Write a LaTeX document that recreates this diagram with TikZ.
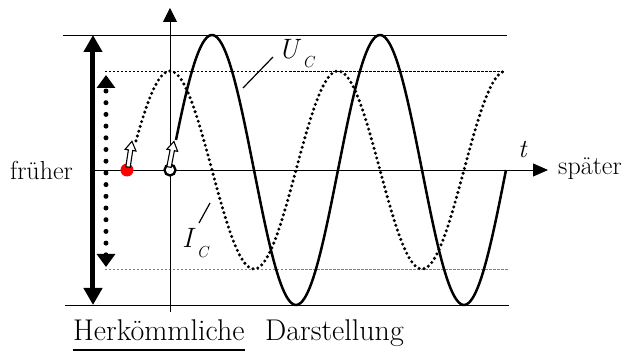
\documentclass[tikz,border=0pt]{standalone}
\usepackage{tikz}
\usetikzlibrary{
	arrows.meta,
	positioning
}

\begin{document}
\begin{tikzpicture}[x=1pt, y=1pt,
		lbl/.style={font=\fontsize{26}{30}\selectfont, inner sep=0pt},
		sym/.style={font=\fontsize{28}{32}\selectfont\itshape, inner sep=0pt},
		captiontext/.style={font=\fontsize{30}{34}\selectfont, inner sep=0pt, anchor=base west},
		thinline/.style={line width=0.8pt},
		hollow/.style={line width=1.1pt, fill=white, line join=miter}]
		\useasboundingbox (-170,-183) rectangle (452,170);
		% Begrenzungen
		\draw[thinline] (-107,135) -- (337,135);
		\draw[thinline] (-105,-135) -- (339,-135);
		\draw[line width=0.7pt, dash pattern=on 2.5pt off 1.5pt] (-65,99) -- (334,99);
		\draw[line width=0.7pt, gray, dash pattern=on 2.5pt off 1.5pt] (-65,-99) -- (338,-99);
		% Achsen
		\draw[thinline, -{Triangle[length=15pt, width=13pt]}] (-80,0) -- (378,0);
		\draw[thinline, -{Triangle[length=14pt, width=14pt]}] (0,-142) -- (0,162);
		% Amplituden
		\draw[line width=5pt, {Triangle[length=17pt, width=18pt]}-{Triangle[length=17pt, width=18pt]}] 
		(-77,-135) -- (-77,135);
		\draw[line width=5pt, line cap=round, dash pattern=on 0pt off 11.7pt,
		{Triangle[length=13pt, width=18pt]}-{Triangle[length=13pt, width=18pt]}] 
		(-64,-97) -- (-64,95);
		% Kurven
		\draw[line width=2.5pt, domain=6:336, smooth, samples=160, variable=\x] 
		plot ({\x}, {135*sin(2.142857*\x)});%U_C
		\draw[line width=3.4pt, line cap=round, dash pattern=on 0pt off 5pt,
		domain=-34:336, smooth, samples=180, variable=\x] 
		plot ({\x}, {99*cos(2.142857*\x)});%I_C
		% Startpunkte
		\fill[red] (-43,0) circle (6.5pt);
		\draw[line width=2.3pt, fill=white] (0,0) circle (5.5pt);
		\begin{scope}[shift={(-42,3)}, rotate=-8.7]
			\draw[hollow] (-2.2,0) -- (-2.2,17) -- (-5.5,17) -- (0,26) -- (5.5,17) -- (2.2,17) -- (2.2,0) -- cycle;
		\end{scope}
		\begin{scope}[shift={(-1,3)}, rotate=-11]
			\draw[hollow] (-2.2,0) -- (-2.2,17) -- (-5.5,17) -- (0,26) -- (5.5,17) -- (2.2,17) -- (2.2,0) -- cycle;
		\end{scope}
		% Beschriftung
		\node[lbl, anchor=base east] (frueher) at (-97,-10) {früher};
		\node[lbl, anchor=base west] (spaeter) at (388,-5) {später};
		\node[lbl, anchor=base west] (tlabel) at (348,12) {\itshape t};
		\node[sym, anchor=base west] (uclabel) at (108,111) 
		{U\kern4pt\raisebox{-9pt}{\fontsize{16}{18}\selectfont C}};
		\node[sym, anchor=base west] (iclabel) at (12,-78) 
		{I\kern4pt\raisebox{-10pt}{\fontsize{16}{18}\selectfont C}};
		\coordinate (ucfoot) at (73,82);
		\coordinate (uchead) at (103,113);
		\coordinate (icfoot) at (29,-53);
		\coordinate (ichead) at (40,-33);
		\draw[line width=1.2pt] (ucfoot) -- (uchead);
		\draw[line width=1.2pt] (icfoot) -- (ichead);
		\node[captiontext] (herk) at (-97,-171) {Herkömmliche};
		\node[captiontext] (darst) at (95,-171) {Darstellung};
		\draw[line width=2pt] ([yshift=-9pt]herk.base west) -- ([yshift=-9pt]herk.base east);
	\end{tikzpicture}
\end{document}
